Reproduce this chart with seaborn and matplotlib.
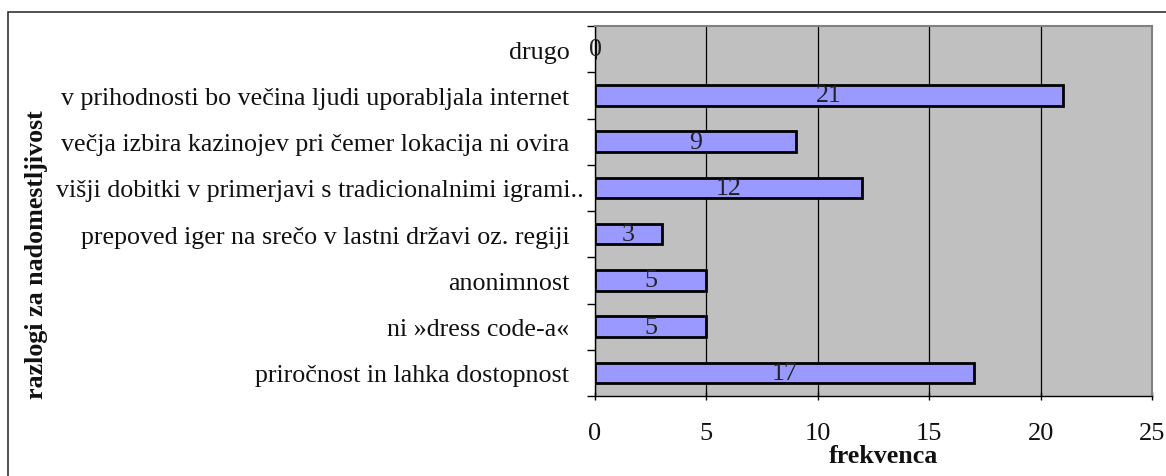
import matplotlib
matplotlib.use("Agg")
import matplotlib.pyplot as plt
import matplotlib.transforms as mtransforms
import seaborn as sns
import pandas as pd
from matplotlib.patches import Rectangle

categories = [
    "drugo",
    "v prihodnosti bo večina ljudi uporabljala internet",
    "večja izbira kazinojev pri čemer lokacija ni ovira",
    "višji dobitki v primerjavi s tradicionalnimi igrami..",
    "prepoved iger na srečo v lastni državi oz. regiji",
    "anonimnost",
    "ni »dress code-a«",
    "priročnost in lahka dostopnost",
]
values = [0, 21, 9, 12, 3, 5, 5, 17]
xticks = [0, 5, 10, 15, 20, 25]

df = pd.DataFrame({"razlog": categories, "frekvenca": values})

sns.set_theme(style="white")
plt.rcParams["font.family"] = ["Liberation Serif", "DejaVu Serif"]

W, H = 1166, 477
FS = 18.7
fig = plt.figure(figsize=(W / 100, H / 100), dpi=100)
ax = fig.add_axes([595 / W, 1 - 397 / H, (1152 - 595) / W, (397 - 27) / H])

sns.barplot(data=df, y="razlog", x="frekvenca", orient="h", ax=ax,
            color="#9999FF", edgecolor="black", linewidth=2, width=0.44,
            saturation=1, zorder=3)

ax.set_facecolor("#C0C0C0")
ax.set_xlim(0, 25)
ax.set_xticks(xticks)
ax.set_xticklabels([str(t) for t in xticks])
ax.grid(axis="x", color="black", linewidth=0.9, zorder=1)
ax.set_axisbelow(True)
ax.set_ylim(len(categories) - 0.5, -0.5)

# y tick marks at category boundaries
ax.set_yticks([i + 0.5 for i in range(-1, len(categories))], minor=True)
ax.tick_params(axis="y", which="major", length=0, labelsize=FS, pad=18.5, labelcolor="#111111")
ax.tick_params(axis="y", which="minor", length=6, width=1, direction="out", color="black", left=True)
ax.tick_params(axis="x", which="major", length=6, width=1, direction="inout", color="black",
               bottom=True, labelsize=FS + 0.3, pad=16, labelcolor="#111111")

# the long label with trailing dots sticks out a little to the right, as in the original
for lbl in ax.get_yticklabels():
    if lbl.get_text().endswith(".."):
        lbl.set_transform(lbl.get_transform() + mtransforms.ScaledTranslation(14 / 100, 0, fig.dpi_scale_trans))

for s in ["top", "right"]:
    ax.spines[s].set_color("#808080")
    ax.spines[s].set_linewidth(1.5)
ax.spines["left"].set_color("black")
ax.spines["bottom"].set_color("black")
ax.spines["left"].set_linewidth(1)
ax.spines["bottom"].set_linewidth(1)

for i, v in enumerate(values):
    ax.text(v / 2, i, str(v), ha="center", va="center", fontsize=FS, color="#222222", zorder=4)

ax.set_xlabel("")
ax.set_ylabel("")
fig.text(883 / W, 1 - 457 / H, "frekvenca", ha="center", va="center",
         fontsize=FS, fontweight="bold", color="#111111")
fig.text(37 / W, 1 - 255 / H, "razlogi za nadomestljivost", rotation=90, ha="center", va="center",
         fontsize=FS, fontweight="bold", color="#111111")

fig.patches.append(Rectangle((8 / W, -0.05), 1.2, 1 - 13 / H + 0.05, transform=fig.transFigure,
                             fill=False, edgecolor="#333333", linewidth=1.2))

fig.savefig("out.png", dpi=100)
